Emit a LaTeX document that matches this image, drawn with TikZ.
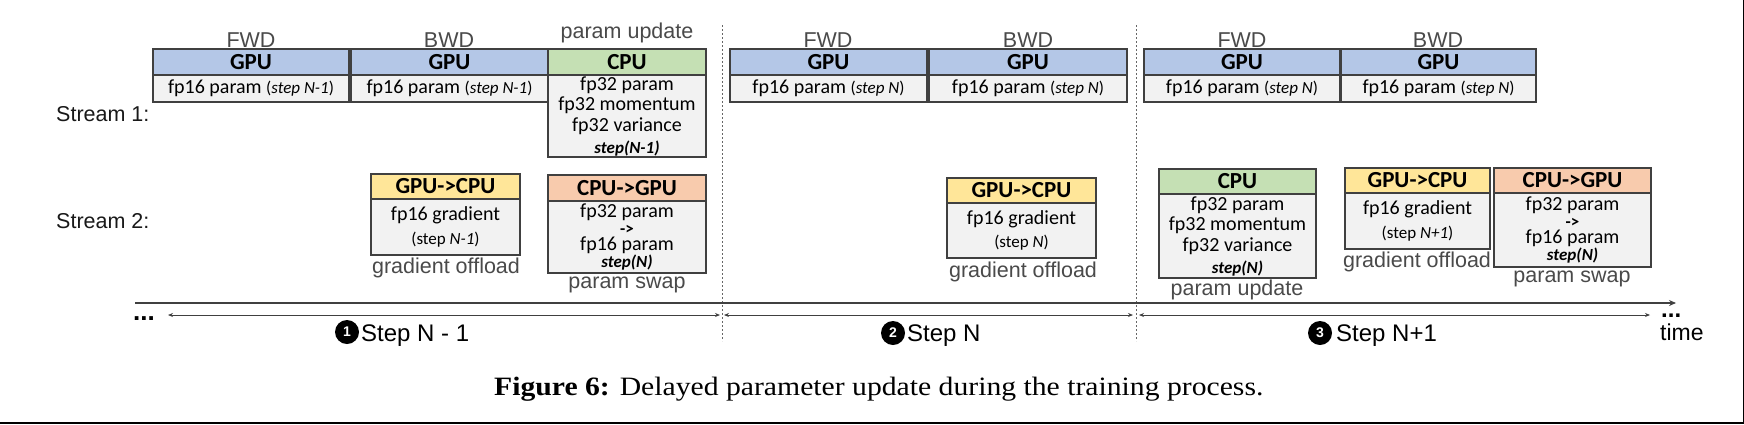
\documentclass[tikz,border=0pt]{standalone}
\usepackage{fontspec}
\setmainfont{Carlito}
\newfontfamily\arialf{Liberation Sans}
\newfontfamily\capf[FakeStretch=1.12]{Liberation Serif}
\usetikzlibrary{arrows.meta}
\definecolor{gpublue}{HTML}{B4C7E7}
\definecolor{cpugreen}{HTML}{C5E0B4}
\definecolor{gtocyellow}{HTML}{FFE699}
\definecolor{ctogorange}{HTML}{F8CBAD}
\definecolor{bodyfill}{HTML}{F2F2F2}
\definecolor{boxline}{HTML}{404040}
\definecolor{labelgray}{HTML}{4A4A4A}
\newcommand{\sm}[1]{{\fontsize{17}{17}\selectfont #1}}
\tikzset{
  hdr/.style={draw=boxline, line width=1.5pt, inner sep=0pt, outer sep=0pt,
    font=\fontsize{23}{23}\selectfont\bfseries, text=black},
  bodyb/.style={draw=boxline, line width=1.5pt, fill=bodyfill, inner sep=0pt,
    outer sep=0pt, align=center, font=\fontsize{20}{20.5}\selectfont, text=black},
  lbl/.style={font=\arialf\fontsize{21.5}{22}\selectfont, text=labelgray, inner sep=0pt},
  streamlbl/.style={font=\arialf\fontsize{21.5}{22}\selectfont, text=black!90, inner sep=0pt, anchor=west},
  dashline/.style={draw=black!60, line width=0.8pt, dash pattern=on 2pt off 2pt},
  timeaxis/.style={draw=boxline, line width=2pt, -{Stealth[length=7pt,width=6pt]}},
  steparrow/.style={draw=black!75, line width=1pt,
    {Stealth[length=5pt,width=4pt]}-{Stealth[length=5pt,width=4pt]}},
  stepnum/.style={circle, fill=black, minimum size=24pt, inner sep=0pt, text=white,
    font=\arialf\bfseries\fontsize{14}{14}\selectfont},
  steptext/.style={anchor=base west, inner sep=0pt, font=\arialf\fontsize{24}{24}\selectfont},
}
% name, x, top, width, header height, body height, colour, header, body
\newcommand{\mybox}[9]{%
  \node[bodyb, anchor=north west, minimum width=#4pt, minimum height=#6pt] (#1b) at (#2,#3+#5) {#9};
  \node[hdr, fill=#7, anchor=north west, minimum width=#4pt, minimum height=#5pt] (#1h) at (#2,#3) {#8};
}
\begin{document}
\begin{tikzpicture}[x=1pt,y=-1pt]
\useasboundingbox (0,0) rectangle (1744,424);
\fill[white] (0,0) rectangle (1744,424);

% ---- Stream 1 ----
\mybox{aa}{153}{49}{196}{26}{27}{gpublue}{GPU}{fp16 param \sm{(\textit{step N-1})}}
\mybox{ab}{351}{49}{197}{26}{27}{gpublue}{GPU}{fp16 param \sm{(\textit{step N-1})}}
\mybox{ac}{548}{49}{158}{26}{82}{cpugreen}{CPU}{fp32 param\\fp32 momentum\\fp32 variance\\[1.5pt]\sm{\bfseries\itshape step(N-1)}}
\mybox{ba}{730}{49}{197}{26}{27}{gpublue}{GPU}{fp16 param \sm{(\textit{step N})}}
\mybox{bb}{929}{49}{198}{26}{27}{gpublue}{GPU}{fp16 param \sm{(\textit{step N})}}
\mybox{ca}{1144}{49}{196}{26}{27}{gpublue}{GPU}{fp16 param \sm{(\textit{step N})}}
\mybox{cb}{1341}{49}{195}{26}{27}{gpublue}{GPU}{fp16 param \sm{(\textit{step N})}}

% ---- Stream 2 ----
\mybox{da}{371}{174}{149}{25}{56}{gtocyellow}{GPU->CPU}{fp16 gradient\\[3pt]\sm{(step \textit{N-1})}}
\mybox{db}{548}{175}{158}{26}{72}{ctogorange}{CPU->GPU}{fp32 param\\[-4pt]\sm{\bfseries ->}\\[-4pt]fp16 param\\[-4pt]\sm{\bfseries\itshape step(N)}}
\mybox{ea}{947}{178}{149}{25}{55}{gtocyellow}{GPU->CPU}{fp16 gradient\\[3pt]\sm{(step \textit{N})}}
\mybox{fa}{1159}{169}{157}{25}{84}{cpugreen}{CPU}{fp32 param\\fp32 momentum\\fp32 variance\\[1.5pt]\sm{\bfseries\itshape step(N)}}
\mybox{fb}{1345}{168}{145}{25}{56}{gtocyellow}{GPU->CPU}{fp16 gradient\\[3pt]\sm{(step \textit{N+1})}}
\mybox{fc}{1494}{168}{157}{25}{74}{ctogorange}{CPU->GPU}{fp32 param\\[-4pt]\sm{\bfseries ->}\\[-4pt]fp16 param\\[-4pt]\sm{\bfseries\itshape step(N)}}

% ---- labels ----
\node[lbl] (laa) at (251,40) {FWD};
\node[lbl] (lab) at (449,40) {BWD};
\node[lbl] (lac) at (627,33) {param update};
\node[lbl] (lba) at (828,40) {FWD};
\node[lbl] (lbb) at (1028,40) {BWD};
\node[lbl] (lca) at (1242,40) {FWD};
\node[lbl] (lcb) at (1438,40) {BWD};
\node[lbl] (lda) at (446,268) {gradient offload};
\node[lbl] (ldb) at (627,285) {param swap};
\node[lbl] (lea) at (1023,272) {gradient offload};
\node[lbl] (lfa) at (1237,290) {param update};
\node[lbl] (lfb) at (1417,262) {gradient offload};
\node[lbl] (lfc) at (1572,279) {param swap};
\node[streamlbl] (s1) at (56,114) {Stream 1:};
\node[streamlbl] (s2) at (56,221) {Stream 2:};

% ---- dashed separators ----
\coordinate (d1t) at (722,25); \coordinate (d1b) at (722,341);
\coordinate (d2t) at (1136,25); \coordinate (d2b) at (1136,341);
\draw[dashline] (d1t) -- (d1b);
\draw[dashline] (d2t) -- (d2b);

% ---- time axis ----
\coordinate (ts) at (135,303); \coordinate (te) at (1676,303);
\draw[timeaxis] (ts) -- (te);

% ---- step arrows ----
\coordinate (s1a) at (168,315); \coordinate (s1b) at (720,315);
\coordinate (s2a) at (724,315); \coordinate (s2b) at (1133,315);
\coordinate (s3a) at (1139,315); \coordinate (s3b) at (1650,315);
\draw[steparrow] (s1a) -- (s1b);
\draw[steparrow] (s2a) -- (s2b);
\draw[steparrow] (s3a) -- (s3b);

\node[anchor=base west, inner sep=0pt, font=\arialf\bfseries\fontsize{26}{26}\selectfont] (dl) at (133,320) {...};
\node[anchor=base west, inner sep=0pt, font=\arialf\bfseries\fontsize{24}{24}\selectfont] (dr) at (1661,317) {...};
\node[anchor=base west, inner sep=0pt, font=\arialf\fontsize{23}{23}\selectfont] (tm) at (1660,340) {time};

% ---- step labels ----
\node[stepnum] (c1) at (347,332) {1};
\node[steptext] (t1) at (361,341) {Step N - 1};
\node[stepnum] (c2) at (893,333) {2};
\node[steptext] (t2) at (907,341) {Step N};
\node[stepnum] (c3) at (1320,333) {3};
\node[steptext] (t3) at (1336,341) {Step N+1};

% ---- caption ----
\node[anchor=base west, inner sep=0pt, font=\capf\fontsize{26.5}{26.5}\selectfont] (cap) at (494,395) {\textbf{Figure 6:} Delayed parameter update during the training process.};

% ---- frame edges ----
\draw[line width=1.5pt] (1743.25,0) -- (1743.25,424);
\draw[line width=1.5pt] (0,422.75) -- (1744,422.75);
\end{tikzpicture}
\end{document}
